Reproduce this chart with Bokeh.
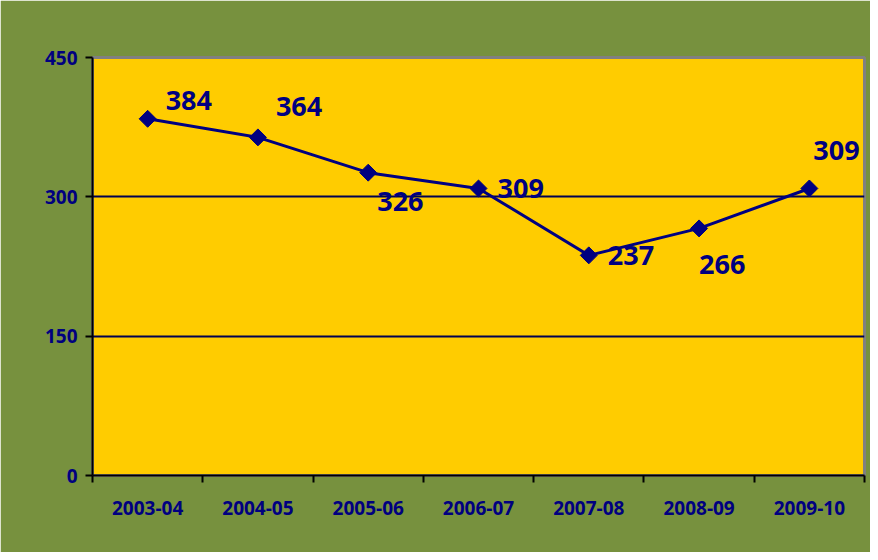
import math
from bokeh.plotting import figure
from bokeh.models import ColumnDataSource, FixedTicker, LinearAxis, Range1d
from bokeh.core.properties import value
from bokeh.embed import file_html
from bokeh.resources import INLINE

years = ["2003-04", "2004-05", "2005-06", "2006-07", "2007-08", "2008-09", "2009-10"]
counts = [384, 364, 326, 309, 237, 266, 309]
y_ticks = [0, 150, 300, 450]

NAVY = "#000080"
GREEN = "#77913E"
YELLOW = "#FFCC00"
FONT = "Open Sans"

xs = [i + 0.5 for i in range(len(years))]
lbl_dx = [18, 18, 9, 19, 19, 0, 4]
lbl_dy = [18, 31, -29, 0, 0, -36, 38]
src = ColumnDataSource(dict(x=xs, y=counts, t=[str(v) for v in counts],
                            dx=lbl_dx, dy=[-d for d in lbl_dy]))

p = figure(width=870, height=552, output_backend="svg", toolbar_location=None,
           x_range=Range1d(0, len(years)), y_range=Range1d(0, 450),
           min_border_left=92, min_border_right=6, min_border_top=57, min_border_bottom=77,
           x_axis_type=None, y_axis_type=None)
p.background_fill_color = YELLOW
p.border_fill_color = GREEN
p.outline_line_color = "#808080"
p.outline_line_width = 3

# y axis
ya = LinearAxis(ticker=FixedTicker(ticks=y_ticks))
ya.axis_line_color = "black"
ya.axis_line_width = 2
ya.major_tick_line_color = "black"
ya.major_tick_line_width = 2
ya.major_tick_out = 7
ya.major_tick_in = 0
ya.minor_tick_line_color = None
ya.major_label_text_color = NAVY
ya.major_label_text_font = FONT
ya.major_label_text_font_style = "bold"
ya.major_label_text_font_size = "19px"
ya.major_label_standoff = 8
p.add_layout(ya, "left")

# x axis: labels at category centres, tick marks at category boundaries
xa = LinearAxis(ticker=FixedTicker(ticks=xs, minor_ticks=list(range(len(years) + 1))),
                major_label_overrides={x: y for x, y in zip(xs, years)})
xa.axis_line_color = "black"
xa.axis_line_width = 2
xa.major_tick_line_color = None
xa.major_tick_out = 0
xa.major_tick_in = 0
xa.minor_tick_line_color = "black"
xa.minor_tick_line_width = 2
xa.minor_tick_out = 7
xa.minor_tick_in = 0
xa.major_label_text_color = NAVY
xa.major_label_text_font = FONT
xa.major_label_text_font_style = "bold"
xa.major_label_text_font_size = "19px"
xa.major_label_standoff = 18
p.add_layout(xa, "below")

p.xgrid.visible = False
p.ygrid.visible = False
p.hspan(y=[150, 300], line_color="#000050", line_width=2)

p.line("x", "y", source=src, line_color=NAVY, line_width=3)
p.scatter("x", "y", source=src, marker="square", angle=math.pi / 4, size=12,
          fill_color=NAVY, line_color=NAVY)
p.text("x", "y", text="t", source=src, x_offset="dx", y_offset="dy",
       text_align="left", text_baseline="middle", text_color=NAVY,
       text_font=value(FONT), text_font_style="bold", text_font_size="27px")

open("out.html", "w").write(file_html(p, INLINE))
